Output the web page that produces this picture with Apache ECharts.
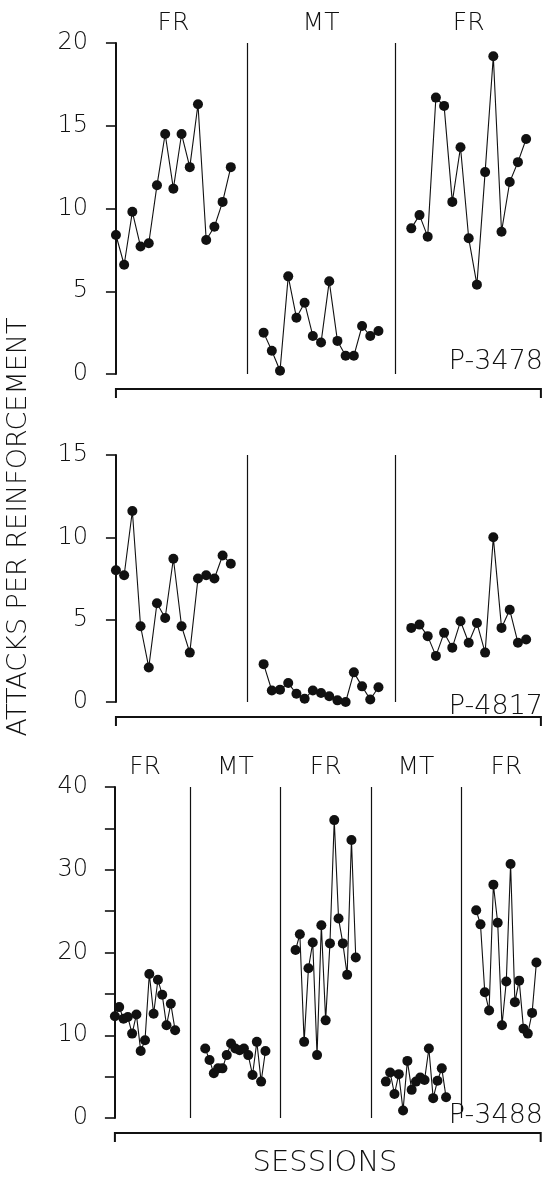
<!DOCTYPE html>
<html><head><meta charset="utf-8">
<script src="https://cdn.jsdelivr.net/npm/echarts@6/dist/echarts.min.js"></script>
<style>html,body{margin:0;padding:0;background:#fff}#c{width:546px;height:1191px}</style>
</head><body><div id="c"></div>
<script>
// ---- Data (attacks per reinforcement, per session) ----
// Subject P-3478
const p1FR1 = [8.4, 6.6, 9.8, 7.7, 7.9, 11.4, 14.5, 11.2, 14.5, 12.5, 16.3, 8.1, 8.9, 10.4, 12.5];
const p1MT  = [2.5, 1.4, 0.2, 5.9, 3.4, 4.3, 2.3, 1.9, 5.6, 2.0, 1.1, 1.1, 2.9, 2.3, 2.6];
const p1FR2 = [8.8, 9.6, 8.3, 16.7, 16.2, 10.4, 13.7, 8.2, 5.4, 12.2, 19.2, 8.6, 11.6, 12.8, 14.2];
// Subject P-4817
const p2FR1 = [8.0, 7.7, 11.6, 4.6, 2.1, 6.0, 5.1, 8.7, 4.6, 3.0, 7.5, 7.7, 7.5, 8.9, 8.4];
const p2MT  = [2.3, 0.7, 0.75, 1.15, 0.5, 0.2, 0.7, 0.55, 0.35, 0.1, 0.0, 1.8, 0.95, 0.15, 0.9];
const p2FR2 = [4.5, 4.7, 4.0, 2.8, 4.2, 3.3, 4.9, 3.6, 4.8, 3.0, 10.0, 4.5, 5.6, 3.6, 3.8];
// Subject P-3488
const p3FR1 = [12.3, 13.4, 12.0, 12.2, 10.2, 12.5, 8.1, 9.4, 17.4, 12.6, 16.7, 14.9, 11.2, 13.8, 10.6];
const p3MT1 = [8.4, 7.0, 5.4, 6.0, 6.0, 7.6, 9.0, 8.4, 8.2, 8.4, 7.6, 5.2, 9.2, 4.4, 8.1];
const p3FR2 = [20.3, 22.2, 9.2, 18.1, 21.2, 7.6, 23.3, 11.8, 21.1, 36.0, 24.1, 21.1, 17.3, 33.6, 19.4];
const p3MT2 = [4.4, 5.5, 2.9, 5.3, 0.9, 6.9, 3.4, 4.4, 4.9, 4.6, 8.4, 2.4, 4.5, 6.0, 2.5];
const p3FR3 = [25.1, 23.4, 15.2, 13.0, 28.2, 23.6, 11.2, 16.5, 30.7, 14.0, 16.6, 10.8, 10.2, 12.7, 18.8];

const labels1 = ['FR', 'MT', 'FR'];
const labels3 = ['FR', 'MT', 'FR', 'MT', 'FR'];
const subjects = ['P-3478', 'P-4817', 'P-3488'];
const yMax = [20, 15, 40];
const yInterval = [5, 5, 5];
const yLabelEvery = [5, 5, 10];
const yTitle = 'ATTACKS PER REINFORCEMENT';
const xTitle = 'SESSIONS';

// ---- Layout ----
const INK = '#111';
const FONT = '"DejaVu Sans", "Liberation Sans", sans-serif';
const FW = 200;
const panels = [
  { phases: [p1FR1, p1MT, p1FR2], labels: labels1, step: 18, top: 43, height: 331, xmin: -1.7, xmax: 52.3, bracketEnd: 51.8, showLabels: true, subjDy: -12 },
  { phases: [p2FR1, p2MT, p2FR2], labels: labels1, step: 18, top: 455, height: 247, xmin: -1.7, xmax: 52.3, bracketEnd: 51.8, showLabels: false, subjDy: 5 },
  { phases: [p3FR1, p3MT1, p3FR2, p3MT2, p3FR3], labels: labels3, step: 21, top: 787, height: 331, xmin: -3, xmax: 100, bracketEnd: 99, showLabels: true, subjDy: -2 }
];

const grids = [], xAxes = [], yAxes = [], series = [];
panels.forEach((p, g) => {
  grids.push({ left: 102, width: 443, top: p.top, height: p.height });
  xAxes.push({ type: 'value', gridIndex: g, min: p.xmin, max: p.xmax, show: false });
  yAxes.push({
    type: 'value', gridIndex: g, min: 0, max: yMax[g], interval: yInterval[g],
    axisLine: { show: true, lineStyle: { color: INK, width: 2 } },
    axisTick: { show: true, length: 10, lineStyle: { color: INK, width: 1.6 } },
    axisLabel: { color: INK, fontSize: 24, fontFamily: FONT, fontWeight: FW, margin: 14,
      formatter: v => (v % yLabelEvery[g] === 0 ? String(v) : '') },
    splitLine: { show: false }
  });
  const seps = [];
  for (let k = 1; k < p.phases.length; k++) seps.push({ xAxis: k * p.step - (p.step - 14) / 2 });
  p.phases.forEach((vals, k) => {
    const start = k * p.step;
    const s = {
      type: 'line', xAxisIndex: g, yAxisIndex: g,
      data: vals.map((v, i) => [start + i, v]),
      symbol: 'circle', symbolSize: 10, showSymbol: true,
      itemStyle: { color: INK }, lineStyle: { color: INK, width: 1.1 },
      z: 3, animation: false, silent: true
    };
    if (k === 0) {
      s.markLine = { silent: true, symbol: ['none', 'none'], label: { show: false },
        lineStyle: { color: INK, width: 1.2, type: 'solid' }, animation: false, data: seps };
    }
    series.push(s);
  });
});

const chart = echarts.init(document.getElementById('c'), null, { renderer: 'canvas' });
chart.setOption({
  backgroundColor: '#fff', animation: false,
  grid: grids, xAxis: xAxes, yAxis: yAxes, series: series
});

// annotations placed through the axes' own scales
const graphics = [];
panels.forEach((p, g) => {
  const px = (x, y) => chart.convertToPixel({ gridIndex: g }, [x, y]);
  if (p.showLabels) {
    p.labels.forEach((lab, k) => {
      const c = px(k * p.step + 7, yMax[g]);
      graphics.push({ type: 'text', x: c[0], y: c[1] - 20,
        style: { text: lab, fill: INK, fontSize: 25, fontFamily: FONT, fontWeight: FW, align: 'center', verticalAlign: 'middle' } });
    });
  }
  const a = px(0, 0), b = px(p.bracketEnd, 0);
  const yb = a[1] + 15;
  graphics.push({ type: 'polyline', shape: { points: [[a[0], yb + 9], [a[0], yb], [b[0], yb], [b[0], yb + 9]] },
    style: { stroke: INK, lineWidth: 2, fill: null } });
  graphics.push({ type: 'text', x: 543, y: a[1] + p.subjDy,
    style: { text: subjects[g], fill: INK, fontSize: 27, fontFamily: FONT, fontWeight: FW, align: 'right', verticalAlign: 'middle' } });
});
graphics.push({ type: 'text', x: 19, y: 527, rotation: Math.PI / 2,
  style: { text: yTitle, fill: INK, fontSize: 27, fontFamily: FONT, fontWeight: FW, align: 'center', verticalAlign: 'middle' } });
graphics.push({ type: 'text', x: 325, y: 1163,
  style: { text: xTitle, fill: INK, fontSize: 29, fontFamily: FONT, fontWeight: FW, align: 'center', verticalAlign: 'middle' } });
chart.setOption({ graphic: graphics });
</script>
</body></html>
